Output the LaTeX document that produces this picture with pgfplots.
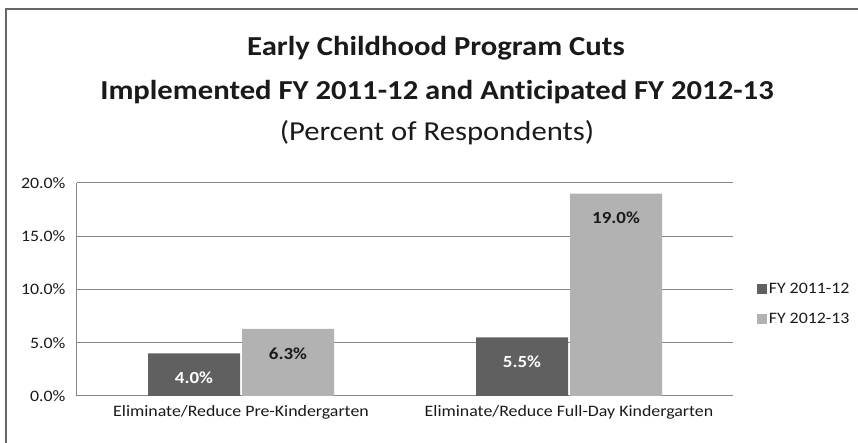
\documentclass[border=0pt]{standalone}
\usepackage{pgfplots}
\pgfplotsset{compat=1.18}
\usepackage{fontspec}
\setmainfont{Carlito}[FakeStretch=1.12, Ligatures=NoCommon]
\definecolor{darkbar}{HTML}{606060}
\definecolor{lightbar}{HTML}{B2B2B2}
\definecolor{gridc}{HTML}{868686}
\definecolor{txt}{HTML}{1A1A1A}
\begin{document}
\begin{tikzpicture}[x=1bp,y=1bp]
\useasboundingbox (0,0) rectangle (858,443);
% chart frame (only top and left edges are inside the crop)
\draw[gray!80!black, line width=1.5bp] (6,-5) -- (6,434) -- (870,434);
% title
\node[font=\fontsize{27.5}{30}\selectfont\bfseries, text=txt] at (436,395) {Early Childhood Program Cuts};
\node[font=\fontsize{27.5}{30}\selectfont\bfseries, text=txt] at (437,351) {Implemented FY 2011-12 and Anticipated FY 2012-13};
\node[font=\fontsize{27.5}{30}\selectfont, text=txt] at (437,310) {(Percent of Respondents)};
\coordinate (origin) at (77,47);
\begin{axis}[
    at={(origin)}, anchor=south west,
    scale only axis, width=656bp, height=213bp,
    ybar=2bp, bar width=92bp,
    xmin=-0.5, xmax=1.5,
    ymin=0, ymax=20,
    xtick=data,
    xticklabels={Eliminate/Reduce Pre-Kindergarten, Eliminate/Reduce Full-Day Kindergarten},
    ytick={0,5,10,15,20},
    yticklabel={\pgfmathprintnumber[fixed,fixed zerofill,precision=1]{\tick}\%},
    /pgf/number format/assume math mode=true,
    tick label style={font=\fontsize{16}{18}\selectfont, text=txt},
    xticklabel style={yshift=-6bp},
    yticklabel style={xshift=-8bp},
    major tick length=0pt,
    axis x line*=bottom, axis y line*=left,
    axis line style={gridc, line width=1bp, -},
    ymajorgrids, grid style={gridc, line width=1bp},
    nodes near coords={\pgfmathprintnumber[fixed,fixed zerofill,precision=1]{\pgfplotspointmeta}\%},
    nodes near coords align={below},
    every node near coord/.append style={font=\fontsize{17}{19}\selectfont\bfseries, anchor=north, yshift=-15bp},
    legend style={at={(1.036,0.43)}, anchor=west, draw=none, fill=none,
        font=\fontsize{16}{18}\selectfont, text=txt,
        row sep=14bp, inner sep=0pt, /tikz/every even column/.append style={column sep=2bp}},
    legend image code/.code={\fill[#1] (0,-5bp) rectangle (10bp,5bp);},
]
\addplot[fill=darkbar, draw=none, every node near coord/.append style={text=white}]
    coordinates {(0,4.0) (1,5.5)};
\addplot[fill=lightbar, draw=none, every node near coord/.append style={text=txt}]
    coordinates {(0,6.3) (1,19.0)};
\legend{FY 2011-12, FY 2012-13}
\end{axis}
\end{tikzpicture}
\end{document}
